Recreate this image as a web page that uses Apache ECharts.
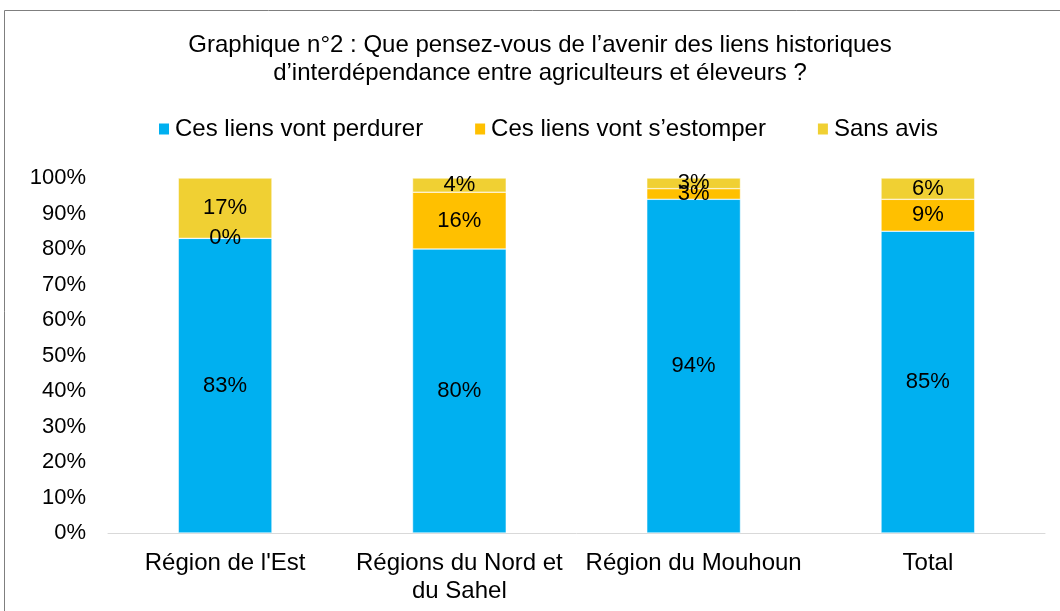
<!DOCTYPE html>
<html>
<head>
<meta charset="utf-8">
<script src="https://cdn.jsdelivr.net/npm/echarts@6/dist/echarts.min.js"></script>
<style>
  html, body { margin: 0; padding: 0; background: #fff; }
  #chart { width: 1060px; height: 611px; }
</style>
</head>
<body>
<div id="chart"></div>
<script>
const categories = ["Région de l'Est", "Régions du Nord et\ndu Sahel", "Région du Mouhoun", "Total"];
const perdurer = [83, 80, 94, 85];
const estomper = [0, 16, 3, 9];
const sansAvis = [17, 4, 3, 6];
const yTicks = [0, 10, 20, 30, 40, 50, 60, 70, 80, 90, 100];

let myChart = echarts.init(document.getElementById("chart"));
const font = "Liberation Sans, Arial, sans-serif";

function serie(name, data, color) {
  return {
    name: name,
    type: "bar",
    stack: "total",
    barWidth: "40%",
    data: data,
    itemStyle: { color: color, borderColor: "#fff", borderWidth: 0.5 },
    label: {
      show: true,
      position: "inside",
      formatter: "{c}%",
      color: "#000",
      fontFamily: font,
      fontSize: 22,
    },
  };
}

let option = {
  animation: false,
  graphic: [
    {
      type: "rect",
      shape: { x: 4.5, y: 10.5, width: 1070, height: 620 },
      style: { fill: "none", stroke: "#7f7f7f", lineWidth: 1 },
    },
  ],
  title: {
    text: "Graphique n°2 : Que pensez-vous de l’avenir des liens historiques\nd’interdépendance entre agriculteurs et éleveurs ?",
    left: 535,
    top: 26,
    textAlign: "center",
    textStyle: {
      fontFamily: font,
      fontSize: 24,
      fontWeight: "normal",
      color: "#000",
      lineHeight: 28,
    },
  },
  legend: {
    top: 112,
    left: 152,
    itemWidth: 12,
    itemHeight: 13,
    itemGap: 50,
    icon: "rect",
    textStyle: { fontFamily: font, fontSize: 24, color: "#000" },
  },
  grid: { left: 108, right: 15, top: 178, bottom: 78, containLabel: false },
  xAxis: {
    type: "category",
    data: categories,
    axisTick: { show: false },
    axisLine: { lineStyle: { color: "#d9d9d9", width: 1 } },
    axisLabel: {
      color: "#000",
      fontFamily: font,
      fontSize: 24,
      margin: 16,
      lineHeight: 28,
      interval: 0,
    },
  },
  yAxis: {
    type: "value",
    min: 0,
    max: 100,
    interval: 10,
    splitLine: { show: false },
    axisLine: { show: false },
    axisLabel: {
      color: "#000",
      fontFamily: font,
      fontSize: 22,
      margin: 22,
      formatter: function (v) {
        return yTicks.indexOf(v) >= 0 ? v + "%" : "";
      },
    },
  },
  series: [
    serie("Ces liens vont perdurer", perdurer, "#00b0f0"),
    serie("Ces liens vont s’estomper", estomper, "#ffc000"),
    serie("Sans avis", sansAvis, "#f0d033"),
  ],
};

myChart.setOption(option);
</script>
</body>
</html>
